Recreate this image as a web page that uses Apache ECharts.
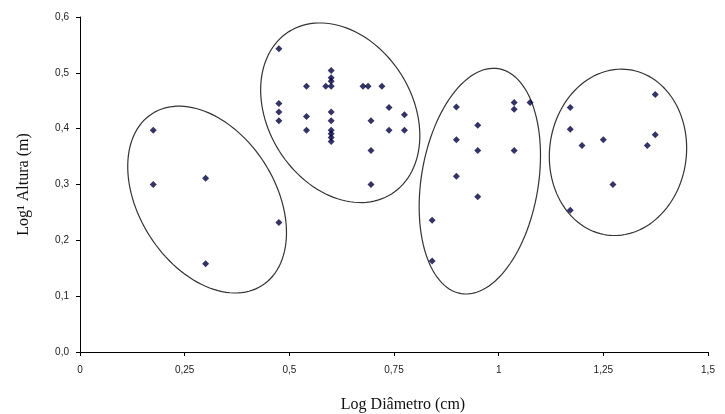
<!DOCTYPE html>
<html>
<head>
<meta charset="utf-8">
<script src="https://cdn.jsdelivr.net/npm/echarts@6/dist/echarts.min.js"></script>
<style>
  html, body { margin: 0; padding: 0; background: #fff; }
  #chart { width: 725px; height: 414px; }
</style>
</head>
<body>
<div id="chart"></div>
<script>
  // pontos [log diametro, log altura] por grupo
  var grupo1 = [
    [0.175, 0.397], [0.175, 0.300], [0.300, 0.311], [0.300, 0.158], [0.475, 0.232]
  ];
  var grupo2 = [
    [0.475, 0.543], [0.475, 0.445], [0.475, 0.430], [0.475, 0.414],
    [0.541, 0.476], [0.541, 0.422], [0.541, 0.397],
    [0.587, 0.476],
    [0.600, 0.504], [0.600, 0.491], [0.600, 0.485], [0.600, 0.476],
    [0.600, 0.430], [0.600, 0.414], [0.600, 0.397], [0.600, 0.391],
    [0.600, 0.384], [0.600, 0.377],
    [0.676, 0.476], [0.688, 0.476], [0.721, 0.476],
    [0.695, 0.414], [0.695, 0.361], [0.695, 0.300],
    [0.738, 0.438], [0.738, 0.397], [0.775, 0.425], [0.775, 0.397]
  ];
  var grupo3 = [
    [0.841, 0.236], [0.841, 0.163],
    [0.899, 0.439], [0.899, 0.380], [0.899, 0.315],
    [0.950, 0.406], [0.950, 0.361], [0.950, 0.278],
    [1.037, 0.447], [1.037, 0.435], [1.037, 0.361],
    [1.075, 0.447]
  ];
  var grupo4 = [
    [1.171, 0.438], [1.171, 0.399], [1.171, 0.254],
    [1.199, 0.370], [1.250, 0.380], [1.273, 0.300],
    [1.355, 0.370], [1.374, 0.461], [1.374, 0.389]
  ];

  var xTicks = ['0', '0,25', '0,5', '0,75', '1', '1,25', '1,5'];

  // elipses: centro (dados), semi-eixos (px), rotacao (graus)
  var elipses = [
    [0.3036, 0.273, 102, 68, 57.4],
    [0.6216, 0.4285, 96, 72, 57.7],
    [0.955, 0.306, 114, 58.5, 99.45],
    [1.285, 0.3576, 83.4, 68.4, 97.35]
  ];

  var pontos = grupo1.concat(grupo2, grupo3, grupo4);

  var axisFont = { fontFamily: 'Liberation Sans', fontSize: 10, color: '#222' };

  var option = {
    animation: false,
    grid: { left: 80, right: 17, top: 17, bottom: 62, outerBoundsMode: 'none' },
    xAxis: {
      type: 'value',
      min: 0,
      max: 1.5,
      interval: 0.25,
      name: 'Log Diâmetro (cm)',
      nameLocation: 'middle',
      nameGap: 45,
      nameTextStyle: { fontFamily: 'Liberation Serif', fontSize: 16, color: '#111', padding: [0, 0, 0, 18] },
      axisLine: { onZero: false, lineStyle: { color: '#000', width: 1 } },
      axisTick: { show: true, length: 4, lineStyle: { color: '#000' } },
      splitLine: { show: false },
      axisLabel: Object.assign({
        margin: 13,
        formatter: function (v) { return xTicks[Math.round(v / 0.25)]; }
      }, axisFont)
    },
    yAxis: {
      type: 'value',
      min: 0,
      max: 0.6,
      interval: 0.1,
      name: 'Log¹ Altura (m)',
      nameLocation: 'middle',
      nameGap: 48,
      nameTextStyle: { fontFamily: 'Liberation Serif', fontSize: 16, color: '#111' },
      axisLine: { show: true, lineStyle: { color: '#000', width: 1 } },
      axisTick: { show: true, length: 4, lineStyle: { color: '#000' } },
      splitLine: { show: false },
      axisLabel: Object.assign({
        margin: 11,
        formatter: function (v) { return v.toFixed(1).replace('.', ','); }
      }, axisFont)
    },
    series: [
      {
        type: 'custom',
        silent: true,
        clip: false,
        encode: { x: 0, y: 1 },
        data: elipses,
        renderItem: function (params, api) {
          var c = api.coord([api.value(0), api.value(1)]);
          var a = api.value(2), b = api.value(3);
          var th = api.value(4) * Math.PI / 180;
          var pts = [];
          for (var i = 0; i < 120; i++) {
            var t = i / 120 * Math.PI * 2;
            pts.push([
              c[0] + a * Math.cos(t) * Math.cos(th) - b * Math.sin(t) * Math.sin(th),
              c[1] + a * Math.cos(t) * Math.sin(th) + b * Math.sin(t) * Math.cos(th)
            ]);
          }
          return {
            type: 'polygon',
            shape: { points: pts },
            style: { fill: 'none', stroke: '#333', lineWidth: 1.2 }
          };
        }
      },
      {
        type: 'scatter',
        symbol: 'diamond',
        symbolSize: 7,
        itemStyle: { color: '#000040' },
        data: pontos
      }
    ]
  };

  var myChart = echarts.init(document.getElementById('chart'));
  myChart.setOption(option);
</script>
</body>
</html>
